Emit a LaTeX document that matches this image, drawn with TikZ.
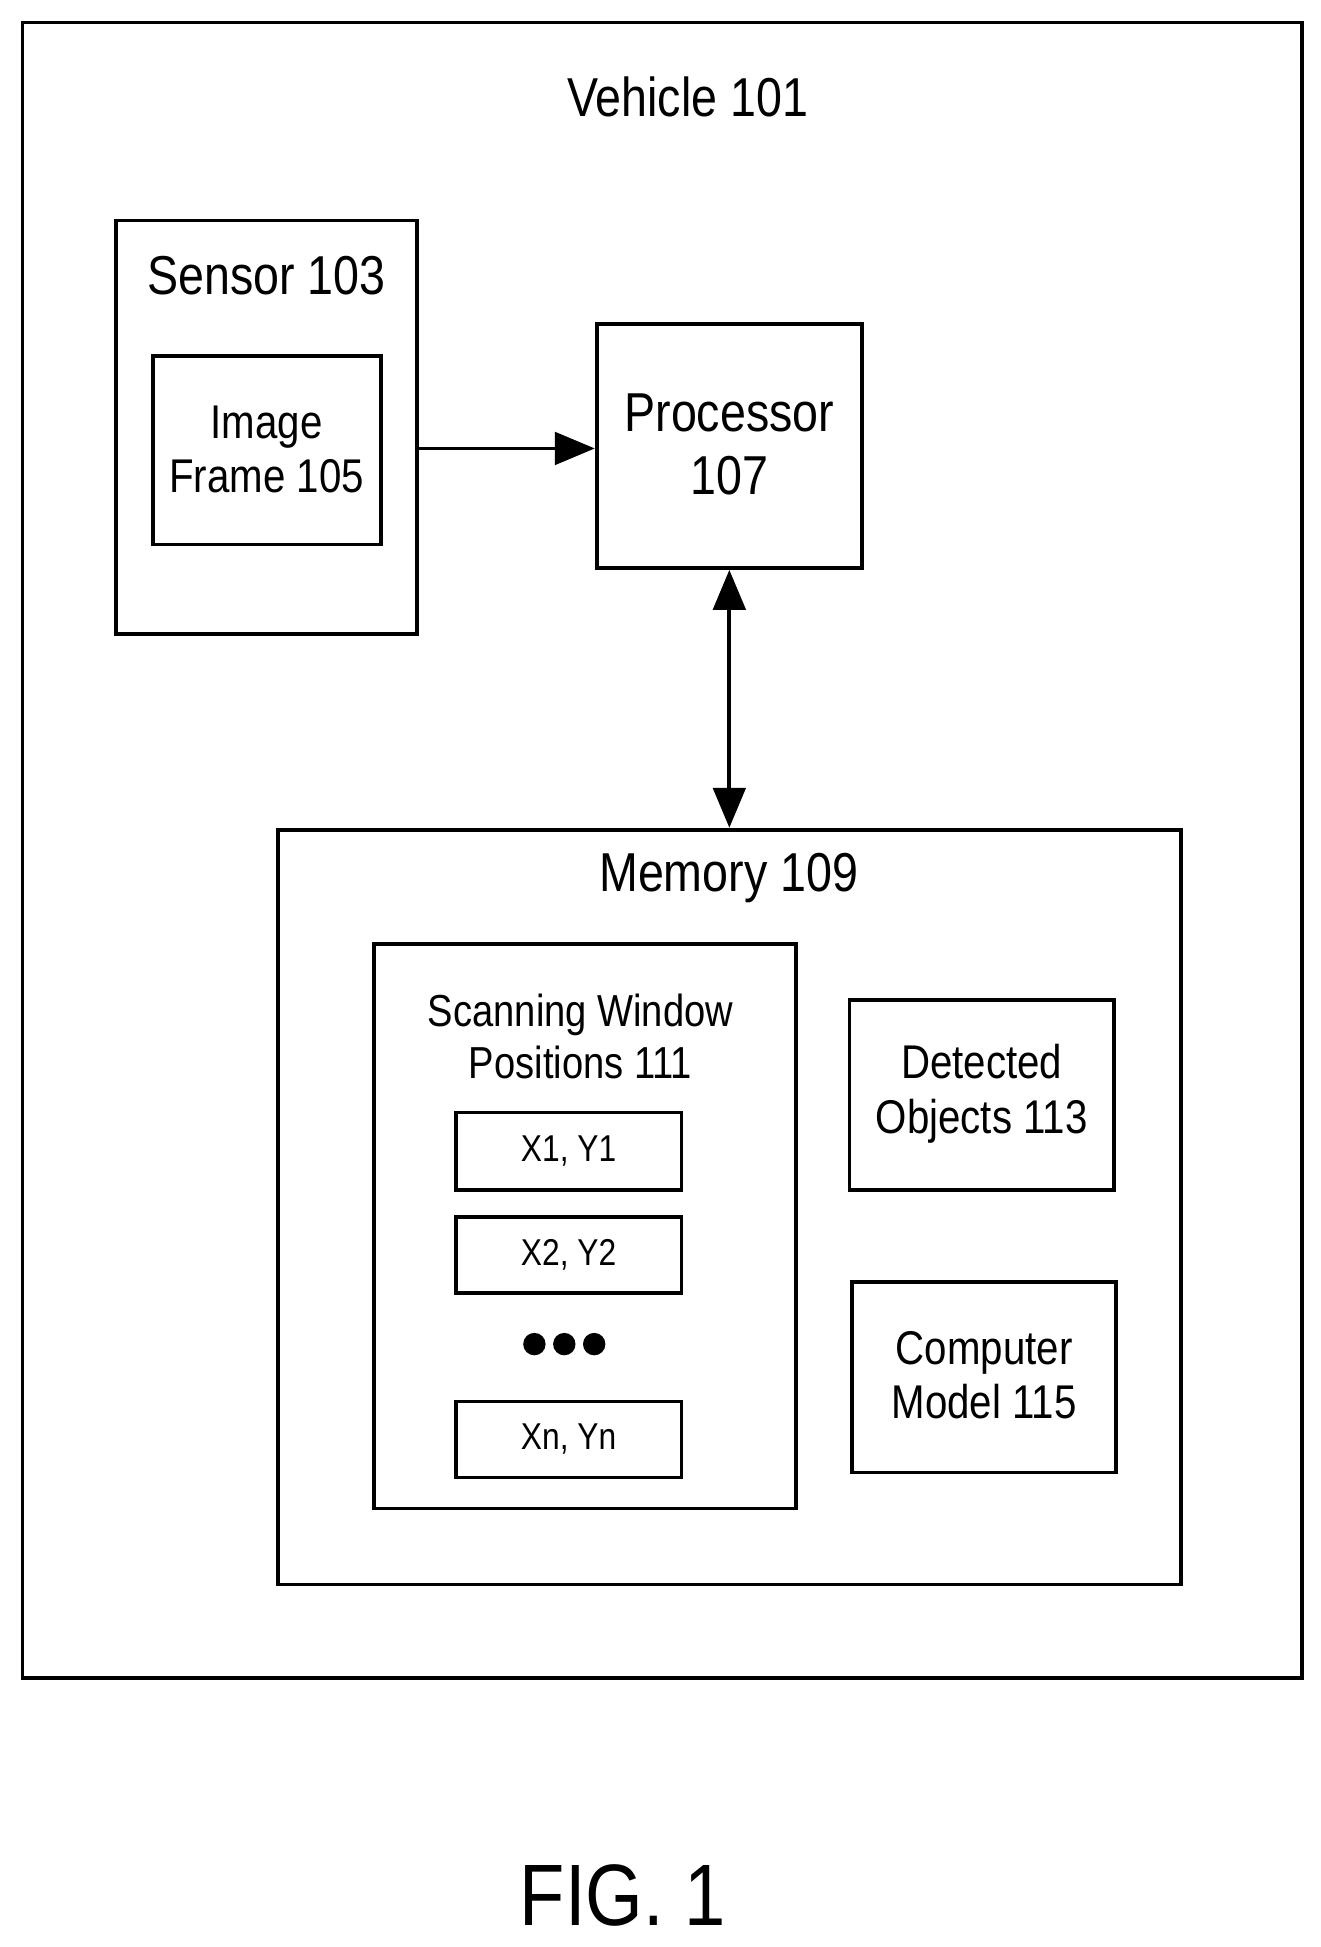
\documentclass[tikz,border=0pt]{standalone}
\usepackage{fontspec}
\setmainfont[FakeStretch=0.85]{Liberation Sans}
\usetikzlibrary{arrows.meta}
\begin{document}
\begin{tikzpicture}[x=0.5pt,y=-0.5pt,
  bx/.style={draw,line width=1.5pt},
  lbl/.style={align=center,inner sep=0,font=\fontsize{#1}{1.15\dimexpr#1pt\relax}\selectfont},
  tip/.style={Triangle[length=16pt,width=13pt]},
  arr/.style={line width=1.5pt,-{Triangle[length=16pt,width=13pt]}}]
\useasboundingbox (0,0) rectangle (1060,1563);
\draw[bx] (18,18) rectangle (1045,1347);
\node[lbl=22] (veh) at (552,78) {Vehicle 101};
\draw[bx] (93,177) rectangle (335,509);
\coordinate (sensR) at (335,360);
\node[lbl=22] (sens) at (214,221) {Sensor 103};
\draw[bx] (123,286) rectangle (306,437);
\node[lbl=19] (img) at (214,361) {Image\\Frame 105};
\node[bx,minimum width=106.5pt,minimum height=98pt] (proc) at (585.5,358) {};
\node[lbl=22] at (585.5,357) {Processor\\107};
\draw[arr] (sensR) -- (sensR -| proc.west);
\node[bx,minimum width=362.5pt,minimum height=303pt] (mem) at (585.5,969) {};
\draw[line width=1.5pt,{Triangle[length=16pt,width=13pt]}-{Triangle[length=16pt,width=13pt]}] (proc.south) -- (mem.north);
\node[lbl=22] at (585,705) {Memory 109};
\draw[bx] (300,758) rectangle (639,1211);
\node[lbl=18] at (466,832) {Scanning Window\\Positions 111};
\node[bx,minimum width=90.5pt,minimum height=31pt,lbl=15] (p1) at (456.5,924) {X1, Y1};
\node[bx,minimum width=90.5pt,minimum height=30.5pt,lbl=15] (p2) at (456.5,1007.5) {X2, Y2};
\node[inner sep=0,minimum size=1pt] (dots) at (453,1079) {};
\foreach \dx in {-24,0,24} \fill ([xshift=\dx*0.5pt]dots) circle (4.5pt);
\node[bx,minimum width=90.5pt,minimum height=30.5pt,lbl=15] (pn) at (456.5,1155.5) {Xn, Yn};
\node[bx,minimum width=106pt,minimum height=76pt] (det) at (788,879) {};
\node[lbl=19] at (788,878) {Detected\\Objects 113};
\node[bx,minimum width=106pt,minimum height=76.5pt] (cm) at (790,1105.5) {};
\node[lbl=19] at (790,1104) {Computer\\Model 115};
\node[lbl=35] (fig) at (500,1522) {FIG. 1};
\end{tikzpicture}
\end{document}
